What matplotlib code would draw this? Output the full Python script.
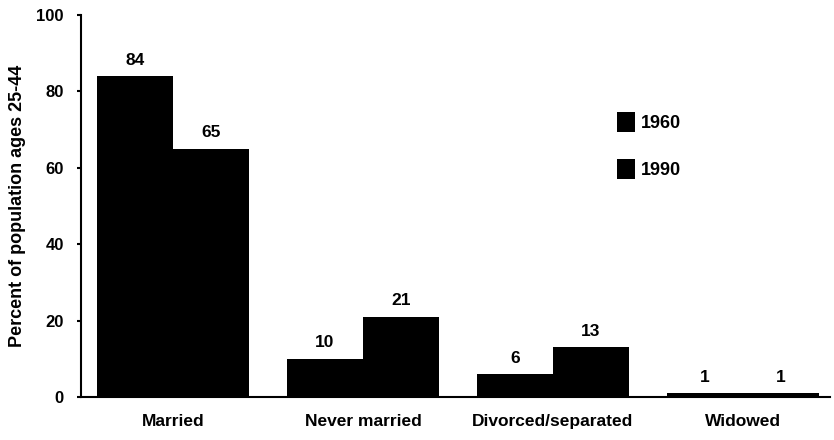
import matplotlib
matplotlib.use("Agg")
import matplotlib.pyplot as plt
import numpy as np

plt.rcParams['font.family'] = ['Liberation Sans', 'DejaVu Sans']
plt.rcParams['font.weight'] = 'bold'

categories = ["Married", "Never married", "Divorced/separated", "Widowed"]
series_names = ["1960", "1990"]
values_1960 = [84, 10, 6, 1]
values_1990 = [65, 21, 13, 1]
y_ticks = [0, 20, 40, 60, 80, 100]

fig = plt.figure(figsize=(8.34, 4.4), dpi=100)
ax = fig.add_axes([81 / 834, 1 - 397 / 440, (830 - 81) / 834, (397 - 15) / 440])

x = np.arange(len(categories))
w = 0.4
b1 = ax.bar(x - w / 2, values_1960, width=w, color='black', label=series_names[0])
b2 = ax.bar(x + w / 2, values_1990, width=w, color='black', label=series_names[1])

for bars, vals in ((b1, values_1960), (b2, values_1990)):
    for rect, v in zip(bars, vals):
        ax.annotate(str(v), (rect.get_x() + rect.get_width() / 2, rect.get_height()),
                    xytext=(0, 6), textcoords='offset points', ha='center', va='bottom',
                    fontsize=12.5, fontweight='bold')

ax.set_xlim(-0.484, 3.458)
ax.set_ylim(0, 100)
ax.set_yticks(y_ticks)
ax.set_xticks(x)
ax.set_xticklabels(categories, fontsize=12.5, fontweight='bold')
ax.tick_params(axis='x', length=0, pad=12)
ax.tick_params(axis='y', direction='out', length=3, width=1.5, pad=9.5, labelsize=12)
for lab in ax.get_yticklabels():
    lab.set_fontweight('bold')

for s in ('top', 'right'):
    ax.spines[s].set_visible(False)
for s in ('left', 'bottom'):
    ax.spines[s].set_linewidth(1.5)

ax.set_ylabel("Percent of population ages 25-44", fontsize=13, fontweight='bold')
ax.yaxis.set_label_coords(-0.074, 0.5)

leg = ax.legend(loc='upper left', bbox_to_anchor=(608 / 834, 1 - 103 / 440),
                bbox_transform=fig.transFigure, frameon=False, fontsize=13,
                handlelength=1.0, handleheight=1.3, handletextpad=0.3,
                labelspacing=1.52, borderpad=0)
for t in leg.get_texts():
    t.set_fontweight('bold')

fig.savefig("out.png", dpi=100)
